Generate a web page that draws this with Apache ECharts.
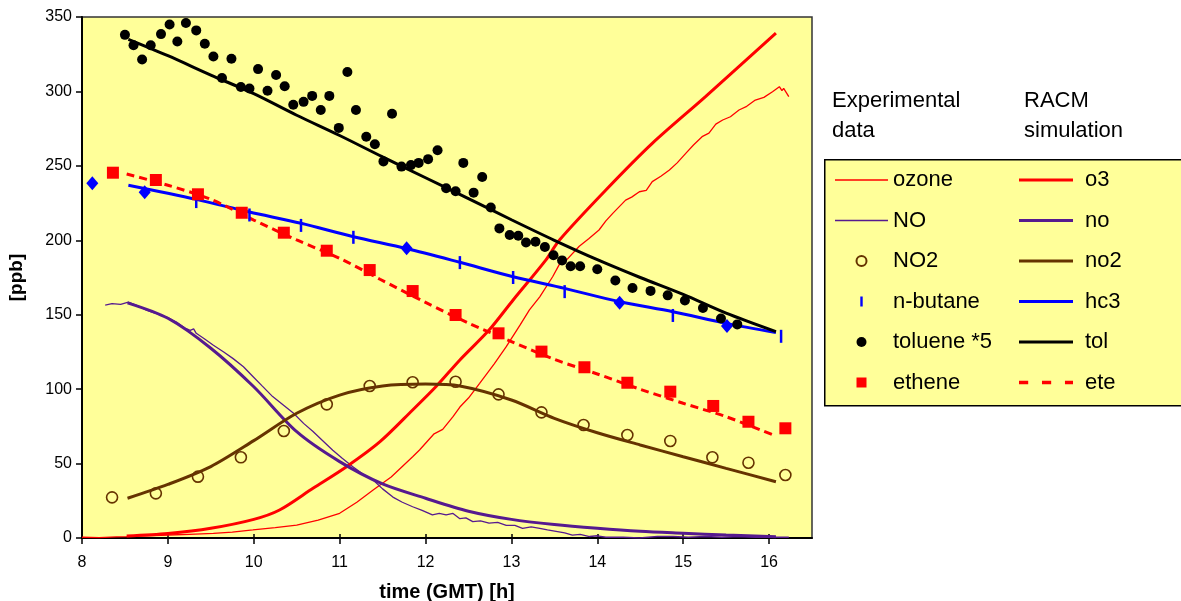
<!DOCTYPE html>
<html><head><meta charset="utf-8">
<script src="https://cdn.jsdelivr.net/npm/echarts@6/dist/echarts.min.js"></script>
<style>html,body{margin:0;padding:0;background:#fff}#c{width:1181px;height:601px}</style>
</head><body><div id="c"></div>
<script>
const xTicks = [8, 9, 10, 11, 12, 13, 14, 15, 16];
const yTicks = [0, 50, 100, 150, 200, 250, 300, 350];

// Experimental data
const ozoneObs = [[8.0,0.5],[8.2,0.3],[8.4,0.8],[8.52,0.9],[8.75,1.5],[9.0,2],[9.25,2.5],[9.53,3.1],[9.75,4],[9.99,5.4],[10.25,7],[10.5,8.7],[10.75,12],[11.0,16.6],[11.2,24],[11.39,32.2],[11.6,41],[11.85,54.6],[11.93,59.1],[12.1,70],[12.2,73],[12.32,81.5],[12.4,88],[12.5,94],[12.63,103.9],[12.8,117],[12.94,128.5],[13.1,143],[13.21,153.2],[13.33,162],[13.48,175.5],[13.56,184],[13.64,186.7],[13.79,196],[13.9,201],[14.02,206.9],[14.1,213],[14.18,218.1],[14.33,227],[14.4,229],[14.49,232.6],[14.57,233.5],[14.64,239.4],[14.74,243],[14.84,247.2],[14.93,252],[15.03,258.4],[15.12,264],[15.22,269.6],[15.3,272],[15.38,278],[15.46,280.8],[15.55,283],[15.65,287.5],[15.74,290],[15.84,294.2],[15.94,296],[16.04,299.8],[16.08,301.5],[16.12,303.2],[16.15,300.5],[16.17,302],[16.23,296.5]];
const noObs = [[8.27,156.5],[8.35,157.5],[8.45,157],[8.54,158.5],[8.65,156],[8.75,153],[8.9,150],[9.0,148],[9.1,145],[9.2,141],[9.26,139.5],[9.3,140.5],[9.33,137.5],[9.42,134],[9.53,129.5],[9.65,125],[9.76,120.5],[9.88,115],[9.99,108.5],[10.1,102],[10.22,95],[10.34,89.5],[10.46,84],[10.58,77],[10.69,71.5],[10.8,65.5],[10.92,59],[11.03,53.5],[11.15,48],[11.27,43],[11.39,39],[11.5,33],[11.62,27.5],[11.73,24],[11.85,21],[11.96,18.5],[12.08,15.5],[12.16,16.5],[12.24,15.5],[12.32,16.5],[12.4,13],[12.47,13.5],[12.55,11],[12.64,11.5],[12.74,10],[12.84,10.5],[12.94,8.5],[13.04,8.5],[13.13,6.5],[13.23,7.5],[13.33,6.5],[13.42,5.5],[13.52,4.5],[13.62,3.5],[13.71,2],[13.8,2.5],[13.91,1],[14.0,1.5],[14.1,0.5],[14.3,0.5],[14.49,0],[14.7,1],[14.88,1],[15.06,0.5],[15.26,1],[15.45,0.5],[15.65,1],[15.85,0.5],[16.04,0.5],[16.23,0.5]];
const no2Obs = [[8.35,27.3],[8.86,30],[9.35,41.2],[9.85,54.2],[10.35,71.9],[10.85,89.8],[11.35,102.1],[11.85,104.6],[12.35,105],[12.85,96.5],[13.35,84.4],[13.84,75.9],[14.35,69.2],[14.85,65.2],[15.34,54.2],[15.76,50.6],[16.19,42.3]];
const butaneObs = [[9.33,226],[9.95,217],[10.55,210],[11.16,202],[12.40,185],[13.02,175],[13.62,165.5],[14.88,149.5],[16.14,135.5]];
const butaneGC = [[8.12,238.3],[8.73,232.2],[11.78,194.6],[14.26,158],[15.51,142.4]];
const tolueneObs = [[8.50,338],[8.60,331],[8.70,321.5],[8.80,331],[8.92,338.5],[9.02,345],[9.11,333.5],[9.21,346],[9.33,341],[9.43,332],[9.53,323.5],[9.63,309],[9.74,322],[9.85,303],[9.95,302],[10.05,315],[10.16,300.5],[10.26,311],[10.36,303.5],[10.46,291],[10.58,293],[10.68,297],[10.78,287.5],[10.88,297],[10.99,275.5],[11.09,313],[11.19,287.5],[11.31,269.5],[11.41,264.5],[11.51,253],[11.61,285],[11.72,249.5],[11.83,250.5],[11.92,252],[12.03,254.5],[12.14,260.5],[12.24,235],[12.35,233],[12.44,252],[12.56,232],[12.66,242.5],[12.76,222],[12.86,208],[12.98,203.5],[13.08,203],[13.17,198.5],[13.28,199],[13.39,195.5],[13.49,190],[13.59,186.5],[13.69,182.5],[13.80,182.5],[14.00,180.5],[14.21,173],[14.41,168],[14.62,166],[14.82,163],[15.02,159.5],[15.23,154.5],[15.44,147.5],[15.63,143.5]];
const etheneObs = [[8.36,245.4],[8.86,240.5],[9.35,230.9],[9.86,218.5],[10.35,205.1],[10.85,193],[11.35,180],[11.85,165.9],[12.35,149.8],[12.85,137.5],[13.35,125.2],[13.85,114.7],[14.35,104.3],[14.85,98.3],[15.35,88.7],[15.76,78.1],[16.19,73.7]];

// RACM simulation
const o3Sim = [[8.52,1.3],[9,3],[9.5,6.5],[10,12.5],[10.3,18.8],[10.69,33.4],[11.08,47.9],[11.47,64.7],[11.85,86],[12.12,101.6],[12.4,119.6],[12.74,139.7],[13.02,159.9],[13.4,186.7],[13.56,200.2],[14.1,233.8],[14.64,265.1],[15.26,296.5],[16.08,339.1]];
const noSim = [[8.53,158],[9,147.6],[9.5,127.5],[10,101.6],[10.5,71.4],[11,51.3],[11.5,36.3],[12,26.7],[12.5,18],[13,12.5],[13.5,9],[14,6.5],[14.5,4.5],[15,3.2],[15.5,2],[16.08,0.9]];
const no2Sim = [[8.53,26.7],[9,36],[9.5,48],[10,65.4],[10.5,83.8],[11,96],[11.5,102.1],[12,103.4],[12.4,102.1],[13,92.7],[13.5,80.4],[14,70.7],[14.5,62.5],[15,54.6],[15.5,46.8],[16.08,37.8]];
const hc3Sim = [[8.54,237],[9.33,227.5],[9.95,219],[10.55,211.4],[11.16,202.4],[11.78,194.5],[12.40,185.2],[13.02,175.5],[13.62,167.7],[14.26,158.7],[14.88,152],[15.50,144.2],[16.08,138]];
const tolSim = [[8.54,335],[9,324],[9.5,311],[10,298.5],[10.5,284],[11,270.4],[11.5,256],[12,242],[12.5,228],[13,213.8],[13.5,200],[14,187],[14.5,175],[15,163.6],[15.5,151],[16.08,138.6]];
const eteSim = [[8.52,244.5],[9,237],[9.5,227.5],[10,213.6],[10.5,200.2],[11,187.9],[11.47,173.8],[12,158.3],[12.5,144.4],[13,132],[13.5,120],[14,110.2],[14.5,99.9],[15,90.5],[15.5,81.5],[16.08,68.5]];

const obsNames = ['ozone', 'NO', 'NO2', 'n-butane', 'toluene *5', 'ethene'];
const simNames = ['o3', 'no', 'no2', 'hc3', 'tol', 'ete'];

const FONT = "'Liberation Sans', Arial, sans-serif";
const RED = '#ff0000', PURPLE = '#561a8f', BROWN = '#663300', BLUE = '#0000ff', BLACK = '#000000';

const THIN_ICON = 'path://M0,0L53,0L53,1.5L0,1.5Z';
const THICK_ICON = 'path://M0,0L54,0L54,3.2L0,3.2Z';
const DASH_ICON = 'path://M0,0L8,0L8,3L0,3Z M20,0L28,0L28,3L20,3Z M40,0L47,0L47,3L40,3Z';
const SQUARE_ICON = 'path://M0,0L11,0L11,11L0,11Z';
const BAR_ICON = 'path://M0,0L2.4,0L2.4,10L0,10Z';

const chart = echarts.init(document.getElementById('c'), null, {renderer: 'canvas'});

function line(name, data, color, width, extra) {
  return Object.assign({
    name, type: 'line', data, symbol: 'none', showSymbol: false, smooth: false,
    lineStyle: {color, width}, itemStyle: {color}, z: 3, silent: true
  }, extra || {});
}
function scatter(name, data, symbol, size, itemStyle, extra) {
  return Object.assign({
    name, type: 'scatter', data, symbol, symbolSize: size,
    itemStyle: Object.assign({opacity: 1}, itemStyle), z: 5, silent: true
  }, extra || {});
}

const option = {
  animation: false,
  backgroundColor: '#ffffff',
  textStyle: {fontFamily: FONT},
  grid: {left: 82, right: 369, top: 17, bottom: 63, show: true, containLabel: false, outerBoundsMode: 'none',
         backgroundColor: '#ffff99', borderColor: '#333', borderWidth: 1.5},
  xAxis: [{
    type: 'value', min: 8, max: 16.5, interval: 1,
    name: 'time (GMT) [h]', nameLocation: 'middle', nameGap: 44,
    nameTextStyle: {fontFamily: FONT, fontSize: 20, fontWeight: 'bold', color: '#000'},
    axisLine: {show: true, onZero: false, lineStyle: {color: '#000', width: 2}},
    axisTick: {show: true, inside: false, length: 6, customValues: xTicks, lineStyle: {color: '#000', width: 1.5}},
    axisLabel: {customValues: xTicks, margin: 17, fontFamily: FONT, fontSize: 16, color: '#000'},
    splitLine: {show: false}
  }, {
    type: 'value', min: 8, max: 16.5, interval: 1, position: 'bottom',
    axisLine: {show: false},
    axisTick: {show: true, inside: true, length: 4, customValues: xTicks, lineStyle: {color: '#000', width: 1.5}},
    axisLabel: {show: false}, splitLine: {show: false}
  }],
  yAxis: {
    type: 'value', min: 0, max: 350, interval: 50,
    name: '[ppb]', nameLocation: 'middle', nameGap: 56, nameRotate: 90,
    nameTextStyle: {fontFamily: FONT, fontSize: 19, fontWeight: 'bold', color: '#000'},
    axisLine: {show: true, lineStyle: {color: '#000', width: 2}},
    axisTick: {show: true, inside: false, length: 6, lineStyle: {color: '#000', width: 1.5}},
    axisLabel: {margin: 10, fontFamily: FONT, fontSize: 16, color: '#000'},
    splitLine: {show: false}
  },
  legend: [{
    data: [
      {name: 'ozone', icon: THIN_ICON}, {name: 'NO', icon: THIN_ICON}, {name: 'NO2'},
      {name: 'n-butane', icon: BAR_ICON},
      {name: 'toluene *5'}, {name: 'ethene', icon: SQUARE_ICON}
    ],
    orient: 'vertical', left: 835, top: 167, itemWidth: 53, itemHeight: 10, itemGap: 14.5,
    selectedMode: false, backgroundColor: 'transparent', padding: 0, z: 10,
    textStyle: {fontFamily: FONT, fontSize: 22, color: '#000', lineHeight: 26}
  }, {
    data: [
      {name: 'o3', icon: THICK_ICON}, {name: 'no', icon: THICK_ICON}, {name: 'no2', icon: THICK_ICON},
      {name: 'hc3', icon: THICK_ICON}, {name: 'tol', icon: THICK_ICON}, {name: 'ete', icon: DASH_ICON}
    ],
    orient: 'vertical', left: 1019, top: 167, itemWidth: 54, itemHeight: 10, itemGap: 14.5,
    selectedMode: false, backgroundColor: 'transparent', padding: 0, z: 10,
    textStyle: {fontFamily: FONT, fontSize: 22, color: '#000', lineHeight: 26, padding: [0, 0, 0, 7]}
  }],
  graphic: [
    {type: 'rect', left: 824, top: 159, z: 0, shape: {width: 370, height: 246}, style: {fill: '#ffff99', stroke: '#000', lineWidth: 1.5}},
    {type: 'text', left: 832, top: 86, z: 1, style: {text: 'Experimental\ndata', font: "22px 'Liberation Sans', Arial, sans-serif", lineHeight: 30, fill: '#000'}},
    {type: 'text', left: 1024, top: 86, z: 1, style: {text: 'RACM\nsimulation', font: "22px 'Liberation Sans', Arial, sans-serif", lineHeight: 30, fill: '#000'}}
  ],
  series: [
    line('ozone', ozoneObs, RED, 1.3),
    line('NO', noObs, PURPLE, 1.3),
    line('o3', o3Sim, RED, 3, {smooth: 0.3}),
    line('no', noSim, PURPLE, 3, {smooth: 0.3}),
    line('no2', no2Sim, BROWN, 3, {smooth: 0.3}),
    line('hc3', hc3Sim, BLUE, 3, {smooth: 0.3}),
    line('tol', tolSim, BLACK, 3, {smooth: 0.3}),
    line('ete', eteSim, RED, 3, {smooth: 0.3, lineStyle: {color: RED, width: 3, type: [8, 5]}}),
    scatter('NO2', no2Obs, 'circle', 11, {color: 'rgba(0,0,0,0)', borderColor: BROWN, borderWidth: 1.6}),
    scatter('n-butane', butaneObs, 'rect', [2.5, 13], {color: BLUE}),
    scatter('n-butane GC', butaneGC, 'diamond', [12, 14], {color: BLUE}),
    scatter('toluene *5', tolueneObs, 'circle', 10, {color: BLACK}),
    scatter('ethene', etheneObs, 'rect', 12, {color: RED})
  ]
};
chart.setOption(option);
</script>
</body></html>
